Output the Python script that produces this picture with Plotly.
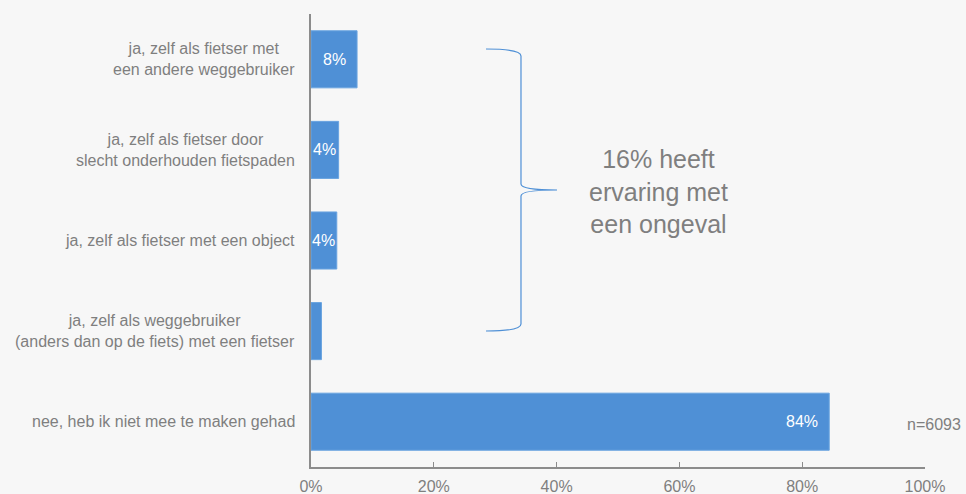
import plotly.graph_objects as go

categories = [
    "ja, zelf als fietser met<br>een andere weggebruiker",
    "ja, zelf als fietser door<br>slecht onderhouden fietspaden",
    "ja, zelf als fietser met een object",
    "ja, zelf als weggebruiker<br>(anders dan op de fiets) met een fietser",
    "nee, heb ik niet mee te maken gehad",
]
values = [7.5, 4.5, 4.2, 1.7, 84.4]
value_labels = ["8%", "4%", "4%", "", "84%"]
tick_vals = [0, 20, 40, 60, 80, 100]
tick_text = ["0%", "20%", "40%", "60%", "80%", "100%"]

GRAY = "#7f7f7f"
BLUE = "#4f90d6"
FONT = "Liberation Sans, Arial, sans-serif"

fig = go.Figure()
fig.add_trace(go.Bar(
    y=categories, x=values, orientation="h",
    marker=dict(color=BLUE, line=dict(color="#6aa4e0", width=1)),
    width=0.63, hoverinfo="skip",
))

ann = []
for cat in categories:
    ann.append(dict(x=0, xref="paper", y=cat, yref="y", text=cat, showarrow=False,
                    xanchor="right", xshift=-14, align="center",
                    font=dict(family=FONT, size=16, color=GRAY)))
for cat, v, t in zip(categories, values, value_labels):
    if not t:
        continue
    if v > 20:
        ann.append(dict(x=v, y=cat, text=t, showarrow=False, xanchor="right", xshift=-9,
                        font=dict(family=FONT, size=16, color="white")))
    else:
        ann.append(dict(x=v / 2, y=cat, text=t, showarrow=False, xanchor="center",
                        font=dict(family=FONT, size=16, color="white")))

ann.append(dict(x=(658 - 311) / 614, xref="paper", y=(467 - 191) / 453, yref="paper",
                text="16% heeft<br>ervaring met<br>een ongeval", showarrow=False,
                align="center", xanchor="center", yanchor="middle",
                font=dict(family=FONT, size=25, color=GRAY)))
ann.append(dict(x=(907 - 311) / 614, xref="paper", y=(467 - 424) / 453, yref="paper",
                text="n=6093", showarrow=False, xanchor="left", yanchor="middle",
                xshift=-2, font=dict(family=FONT, size=16, color=GRAY)))

def px(x, y):
    return f"{(x - 311) / 614:.4f},{(467 - y) / 453:.4f}"

brace = (
    f"M {px(486, 49)} Q {px(521, 49)} {px(521, 56)} "
    f"L {px(521, 184)} Q {px(521, 190)} {px(557, 190)} "
    f"Q {px(521, 190)} {px(521, 196)} "
    f"L {px(521, 324)} Q {px(521, 331)} {px(486, 331)}"
)

fig.update_layout(
    width=966, height=494,
    margin=dict(l=311, r=41, t=14, b=27, autoexpand=False),
    paper_bgcolor="#f7f7f7", plot_bgcolor="#f7f7f7",
    showlegend=False, bargap=0.37,
    font=dict(family=FONT, color=GRAY, size=16),
    annotations=ann,
    shapes=[dict(type="path", xref="paper", yref="paper", path=brace,
                 line=dict(color="#4f90d6", width=1.2))],
    xaxis=dict(range=[0, 100], tickvals=tick_vals, ticktext=tick_text,
               showgrid=False, zeroline=False, showline=True, linecolor="#8c8c8c",
               linewidth=1.5, ticks="inside", ticklen=5, tickcolor="#8c8c8c",
               ticklabelstandoff=4, automargin=False,
               tickfont=dict(family=FONT, size=16, color=GRAY), fixedrange=True),
    yaxis=dict(autorange="reversed", showticklabels=False, showgrid=False,
               zeroline=False, showline=True, linecolor="#8c8c8c", linewidth=1.5,
               ticks="", fixedrange=True, automargin=False),
)

fig.write_html("out.html", config={"displayModeBar": False},
               post_script="document.body.style.margin='0';document.body.style.overflow='hidden';document.body.style.background='#f7f7f7';")
